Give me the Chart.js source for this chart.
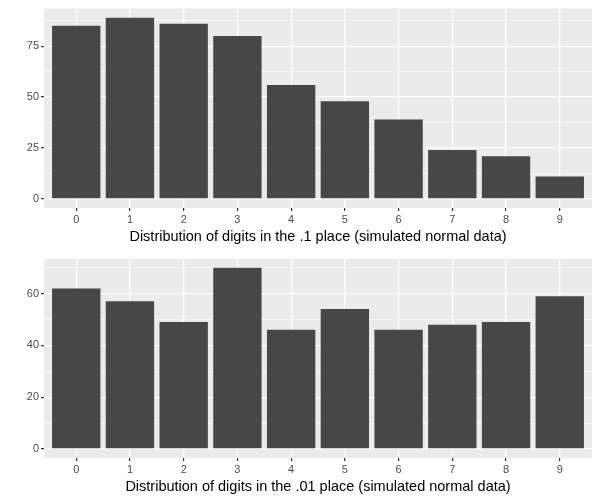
<!DOCTYPE html>
<html>
<head>
<meta charset="utf-8">
<script src="https://cdn.jsdelivr.net/npm/chart.js@4"></script>
<style>
  body { margin: 0; background: #fff; }
  canvas { display: block; }
</style>
</head>
<body>
<canvas id="chartTenths" width="600" height="250"></canvas>
<canvas id="chartHundredths" width="600" height="250"></canvas>
<script>
var digits = [0, 1, 2, 3, 4, 5, 6, 7, 8, 9];
var tenthsCounts = [85, 89, 86, 80, 56, 48, 39, 24, 21, 11];
var hundredthsCounts = [62, 57, 49, 70, 46, 54, 46, 48, 49, 59];
var tenthsTitle = 'Distribution of digits in the .1 place (simulated normal data)';
var hundredthsTitle = 'Distribution of digits in the .01 place (simulated normal data)';

var panelBg = {
    id: 'panelBg',
    beforeDraw: function(chart){
        var a = chart.chartArea;
        var ctx = chart.ctx;
        ctx.save();
        ctx.fillStyle = '#EBEBEB';
        ctx.fillRect(a.left, a.top, a.right - a.left, a.bottom - a.top);
        ctx.restore();
    }
};

function makeChart(id, counts, title, majorStep){
    var maxVal = Math.max.apply(null, counts);
    var pad = maxVal * 0.05;
    var pts = digits.map(function(d, i){ return {x: d, y: counts[i]}; });
    function isMajor(v){ return Math.abs(v / majorStep - Math.round(v / majorStep)) < 1e-6; }

    return new Chart(id, {
        type: 'bar',
        data: {
            datasets: [{
                data: pts,
                backgroundColor: '#474747',
                barPercentage: 0.9,
                categoryPercentage: 1
            }]
        },
        options: {
            responsive: false,
            animation: false,
            events: [],
            layout: { padding: { top: 7, right: 8, left: 0, bottom: 0 } },
            plugins: { legend: { display: false }, tooltip: { enabled: false } },
            scales: {
                x: {
                    type: 'linear',
                    min: -0.6,
                    max: 9.6,
                    offset: false,
                    border: { display: false },
                    grid: { offset: false, color: '#FFFFFF', lineWidth: 1.2, tickColor: '#333333', tickLength: 3 },
                    ticks: {
                        stepSize: 1,
                        includeBounds: false,
                        autoSkip: false,
                        maxRotation: 0,
                        padding: 2,
                        color: '#4D4D4D',
                        font: { family: 'Liberation Sans', size: 11 }
                    },
                    title: {
                        display: true,
                        text: title,
                        color: '#000000',
                        padding: { top: 0, bottom: 4 },
                        font: { family: 'Liberation Sans', size: 14.5 }
                    },
                    afterFit: function(scale){ scale.height = 42; }
                },
                y: {
                    min: -pad,
                    max: maxVal + pad,
                    border: { display: false },
                    grid: {
                        color: '#FFFFFF',
                        lineWidth: function(c){ return isMajor(c.tick.value) ? 1.2 : 0.6; },
                        tickColor: function(c){ return isMajor(c.tick.value) ? '#333333' : 'rgba(0,0,0,0)'; },
                        tickLength: 3
                    },
                    ticks: {
                        stepSize: majorStep / 2,
                        includeBounds: false,
                        autoSkip: false,
                        padding: 2,
                        color: '#4D4D4D',
                        font: { family: 'Liberation Sans', size: 11 },
                        callback: function(v){ return isMajor(v) ? String(v) : ''; }
                    },
                    afterFit: function(scale){ scale.width = 44; }
                }
            }
        },
        plugins: [panelBg]
    });
}

var graphTenths = makeChart('chartTenths', tenthsCounts, tenthsTitle, 25);
var graphHundredths = makeChart('chartHundredths', hundredthsCounts, hundredthsTitle, 20);
</script>
</body>
</html>
